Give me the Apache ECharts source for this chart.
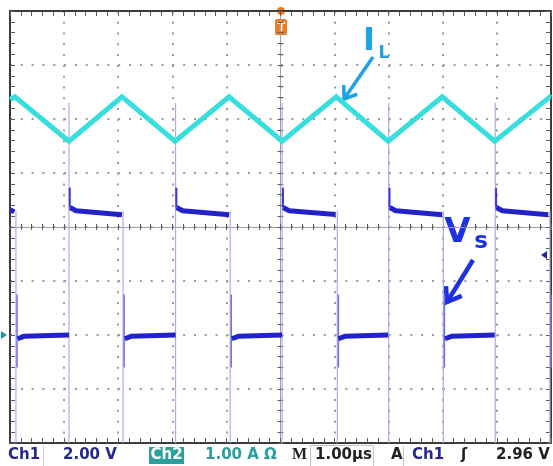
<!DOCTYPE html>
<html><head><meta charset="utf-8">
<script src="https://cdn.jsdelivr.net/npm/echarts@6/dist/echarts.min.js"></script>
<style>html,body{margin:0;padding:0;background:#fff}#c{width:553px;height:466px}</style>
</head><body><div id="c"></div>
<script>
// ---------- data (time in µs, Ch1 = Vs in volts, Ch2 = IL in amps) ----------
const timeRange = [0, 10];       // 1.00 µs / div, 10 div
const ch1Range = [-4, 12];       // 2.00 V / div, ground at -2 div
const ch2Range = [-2, 6];        // 1.00 A / div, ground at -2 div

const ilTime = [0, 0.09, 1.09, 2.07, 3.05, 4.05, 5.03, 6.03, 6.99, 7.99, 8.96, 9.98, 10];
const ilAmps = [4.36, 4.41, 3.59, 4.41, 3.59, 4.41, 3.59, 4.41, 3.59, 4.41, 3.59, 4.41, 4.40];

const vsHighStart  = [0, 1.11, 3.08, 5.05, 7.02, 8.99];
const vsHighKnee   = [0.04, 1.22, 3.19, 5.16, 7.13, 9.10];
const vsHighEnd    = [0.08, 2.07, 4.05, 6.02, 7.99, 9.95];
const vsHighStartV = [4.62, 4.72, 4.72, 4.72, 4.72, 4.72];
const vsHighKneeV  = [4.60, 4.60, 4.60, 4.60, 4.60, 4.60];
const vsHighEndV   = [4.56, 4.45, 4.45, 4.46, 4.45, 4.45];

const vsLowStart  = [0.14, 2.12, 4.10, 6.07, 8.04];
const vsLowKnee   = [0.26, 2.24, 4.22, 6.19, 8.16];
const vsLowEnd    = [1.09, 3.06, 5.03, 6.99, 8.96];
const vsLowStartV = [-0.14, -0.14, -0.14, -0.14, -0.14];
const vsLowKneeV  = [-0.05, -0.05, -0.05, -0.05, -0.05];
const vsLowEndV   = [0.00, 0.00, 0.00, 0.00, 0.00];

const risingEdges  = [1.09, 3.06, 5.03, 7.00, 8.97];
const fallingEdges = [0.11, 2.09, 4.07, 6.05, 8.01, 9.98];
const riseSpikeV  = [5.45, 4.72];      // top, base
const fallSpikeV  = [1.50, -1.20];     // top, bottom
const riseEdgeV   = [8.60, -4.00];     // faint edge extent
const fallEdgeV   = [4.60, -4.00];

const triggerLevelV = 2.96;

// ---------- build series data ----------
function segments(s, k, e, sv, kv, ev) {
  const out = [];
  for (let i = 0; i < s.length; i++) {
    out.push([s[i], sv[i]], [k[i], kv[i]], [e[i], ev[i]], [e[i], null]);
  }
  return out;
}
function verticals(ts, range) {
  const out = [];
  ts.forEach(t => { out.push([t, range[0]], [t, range[1]], [t, null]); });
  return out;
}
const ilData = ilTime.map((t, i) => [t, ilAmps[i]]);
const vsHighData = segments(vsHighStart, vsHighKnee, vsHighEnd, vsHighStartV, vsHighKneeV, vsHighEndV);
const vsLowData = segments(vsLowStart, vsLowKnee, vsLowEnd, vsLowStartV, vsLowKneeV, vsLowEndV);
const faintData = verticals(risingEdges, riseEdgeV).concat(verticals(fallingEdges, fallEdgeV));
const riseSpikeData = verticals(risingEdges.map(t => t + 0.015), riseSpikeV);
const fallSpikeData = verticals(fallingEdges.map(t => t + 0.02), fallSpikeV);

// ---------- chart ----------
const chart = echarts.init(document.getElementById('c'), null, {renderer: 'canvas'});
const G = {left: 10, top: 11, width: 541, height: 432};
const tickC = '#5a5a5a';
const borderAxis = (extra) => Object.assign({
  type: 'value', gridIndex: 0, interval: 1,
  axisLine: {show: true, onZero: false, lineStyle: {color: '#3c3c3c', width: 2}},
  axisTick: {show: true, inside: true, length: 5, lineStyle: {color: tickC}},
  minorTick: {show: true, splitNumber: 5, length: 5, lineStyle: {color: tickC}},
  axisLabel: {show: false}, splitLine: {show: false}
}, extra);
const crossAxis = (extra, inside) => Object.assign({
  type: 'value', interval: 1,
  axisLine: {show: true, onZero: true, lineStyle: {color: '#a0a0a0', width: 1}},
  axisTick: {show: true, inside: inside, length: 3, lineStyle: {color: tickC}},
  minorTick: {show: true, splitNumber: 5, length: 3, lineStyle: {color: tickC}},
  axisLabel: {show: false}, splitLine: {show: false}
}, extra);

const option = {
  animation: false,
  backgroundColor: '#ffffff',
  grid: [Object.assign({}, G), Object.assign({}, G), Object.assign({}, G)],
  xAxis: [
    borderAxis({min: timeRange[0], max: timeRange[1], position: 'bottom',
      splitLine: {show: true, lineStyle: {color: '#9c9c9c', width: 2, type: [2, 8.78]}}}),
    borderAxis({min: timeRange[0], max: timeRange[1], position: 'top'}),
    crossAxis({gridIndex: 1, min: -5, max: 5}, true),
    crossAxis({gridIndex: 2, min: -5, max: 5}, false)
  ],
  yAxis: [
    borderAxis({min: -4, max: 4, position: 'left',
      splitLine: {show: true, lineStyle: {color: '#9c9c9c', width: 2, type: [2, 8.82]}}}),
    borderAxis({min: -4, max: 4, position: 'right'}),
    {type: 'value', gridIndex: 0, min: ch1Range[0], max: ch1Range[1], show: false},
    {type: 'value', gridIndex: 0, min: ch2Range[0], max: ch2Range[1], show: false},
    crossAxis({gridIndex: 1, min: -4, max: 4}, true),
    crossAxis({gridIndex: 2, min: -4, max: 4}, false)
  ],
  series: [
    {name: 'edges', type: 'line', xAxisIndex: 0, yAxisIndex: 2, data: faintData,
      showSymbol: false, connectNulls: false, lineStyle: {color: '#ababf2', width: 1.2}},
    {name: 'IL', type: 'line', xAxisIndex: 0, yAxisIndex: 3, data: ilData,
      showSymbol: false, lineStyle: {color: '#38dede', width: 5, join: 'miter'}},
    {name: 'rise spikes', type: 'line', xAxisIndex: 0, yAxisIndex: 2, data: riseSpikeData,
      showSymbol: false, connectNulls: false, lineStyle: {color: '#3a3ad6', width: 2}},
    {name: 'fall spikes', type: 'line', xAxisIndex: 0, yAxisIndex: 2, data: fallSpikeData,
      showSymbol: false, connectNulls: false, lineStyle: {color: '#7272e6', width: 1.5}},
    {name: 'Vs high', type: 'line', xAxisIndex: 0, yAxisIndex: 2, data: vsHighData,
      showSymbol: false, connectNulls: false, lineStyle: {color: '#2222c8', width: 5}},
    {name: 'Vs low', type: 'line', xAxisIndex: 0, yAxisIndex: 2, data: vsLowData,
      showSymbol: false, connectNulls: false, lineStyle: {color: '#2222c8', width: 5}}
  ]
};
chart.setOption(option);

// ---------- annotations & status bar ----------
const trig = chart.convertToPixel({xAxisIndex: 0, yAxisIndex: 2}, [timeRange[1], triggerLevelV]);
const gnd2 = chart.convertToPixel({xAxisIndex: 0, yAxisIndex: 3}, [timeRange[0], 0]);
const mid = chart.convertToPixel({xAxisIndex: 0, yAxisIndex: 0}, [5, 4]);

const F = 'DejaVu Sans';
const blueTxt = '#26268e', tealTxt = '#2a9e9e', blackTxt = '#222';
function txt(x, y, s, fill, size, opts) {
  return {type: 'text', x: x, y: y, silent: true,
    style: Object.assign({text: s, fill: fill, font: 'bold ' + size + 'px "' + F + '"', textAlign: 'left', textVerticalAlign: 'middle'}, opts || {})};
}
function chevron(tip, dir, len, ang) {
  const d = Math.hypot(dir[0], dir[1]);
  const rx = -dir[0] / d, ry = -dir[1] / d;
  const c = Math.cos(ang), s = Math.sin(ang);
  const a = [tip[0] + len * (rx * c - ry * s), tip[1] + len * (rx * s + ry * c)];
  const b = [tip[0] + len * (rx * c + ry * s), tip[1] + len * (-rx * s + ry * c)];
  return [a, tip, b];
}
const ilStart = [373, 57], ilTip = [344, 99];
const vsStart = [473, 260], vsTip = [447, 302];
const ilCol = '#1ea2e6', vsCol = '#1c32e0';

chart.setOption({graphic: [
  // trigger position marker (top)
  {type: 'circle', shape: {cx: mid[0] + 0.5, cy: 11, r: 4}, style: {fill: '#f07a22'}, silent: true},
  {type: 'rect', shape: {x: mid[0] - 5.5, y: 19, width: 12, height: 16, r: 2}, style: {fill: '#f07a22'}, silent: true},
  txt(mid[0] + 0.5, 27.5, 'T', '#ffffff', 12, {textAlign: 'center'}),
  // trigger level marker (right)
  {type: 'polygon', shape: {points: [[trig[0] - 4, trig[1] - 4], [trig[0] - 10, trig[1]], [trig[0] - 4, trig[1] + 4]]}, style: {fill: '#22229a'}, silent: true},
  // Ch2 ground marker (left)
  {type: 'polygon', shape: {points: [[gnd2[0] - 9, gnd2[1] - 4], [gnd2[0] - 3, gnd2[1]], [gnd2[0] - 9, gnd2[1] + 4]]}, style: {fill: '#1a9a9a'}, silent: true},
  // IL label and arrow
  txt(369, 41.5, 'I', ilCol, 32, {textAlign: 'center'}),
  txt(384, 54, 'L', ilCol, 17, {textAlign: 'center'}),
  {type: 'line', shape: {x1: ilStart[0], y1: ilStart[1], x2: ilTip[0], y2: ilTip[1]}, style: {stroke: ilCol, lineWidth: 3.5}, silent: true},
  {type: 'polyline', shape: {points: chevron(ilTip, [ilTip[0] - ilStart[0], ilTip[1] - ilStart[1]], 14, 0.62)}, style: {stroke: ilCol, lineWidth: 3.5, fill: null}, silent: true},
  // Vs label and arrow
  txt(457.5, 233, 'V', vsCol, 34, {textAlign: 'center'}),
  txt(481, 242, 's', vsCol, 23, {textAlign: 'center'}),
  {type: 'line', shape: {x1: vsStart[0], y1: vsStart[1], x2: vsTip[0], y2: vsTip[1]}, style: {stroke: vsCol, lineWidth: 4.5}, silent: true},
  {type: 'polyline', shape: {points: chevron(vsTip, [vsTip[0] - vsStart[0], vsTip[1] - vsStart[1]], 16, 0.62)}, style: {stroke: vsCol, lineWidth: 4.5, fill: null}, silent: true},
  // status bar
  {type: 'line', shape: {x1: 43.5, y1: 446, x2: 43.5, y2: 466}, style: {stroke: '#cfcfcf', lineWidth: 1}, silent: true},
  txt(8, 455, 'Ch1', blueTxt, 15),
  txt(63, 455, '2.00 V', blueTxt, 15),
  {type: 'rect', shape: {x: 149, y: 447, width: 35, height: 17}, style: {fill: '#2b9f9c'}, silent: true},
  txt(166.5, 455.5, 'Ch2', '#ffffff', 15, {textAlign: 'center'}),
  txt(205, 455, '1.00 A \u03A9', tealTxt, 15),
  txt(292, 455, 'M', blackTxt, 16, {font: 'bold 16px "Liberation Serif"'}),
  {type: 'rect', shape: {x: 310.5, y: 445.5, width: 63, height: 21}, style: {stroke: '#c4c4c4', fill: null, lineWidth: 1}, silent: true},
  txt(315, 455, '1.00\u00B5s', blackTxt, 15),
  txt(391, 455, 'A', blackTxt, 15),
  {type: 'line', shape: {x1: 403.5, y1: 446, x2: 403.5, y2: 466}, style: {stroke: '#c4c4c4', lineWidth: 1}, silent: true},
  txt(412, 455, 'Ch1', blueTxt, 15),
  txt(461, 455, '\u0283', blackTxt, 15),
  txt(496, 455, '2.96 V', blackTxt, 15)
]});
</script>
</body></html>
